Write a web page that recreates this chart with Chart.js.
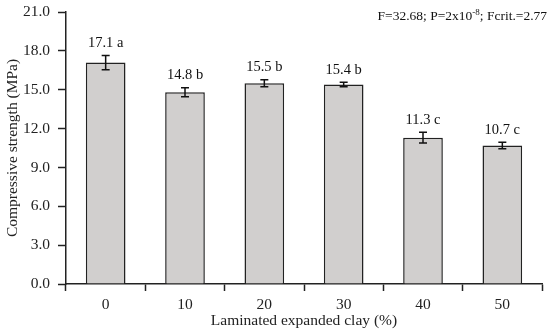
<!DOCTYPE html>
<html>
<head>
<meta charset="utf-8">
<script src="https://cdn.jsdelivr.net/npm/chart.js@4"></script>
<style>
  html, body { margin: 0; padding: 0; background: #fff; }
  #wrap { width: 550px; height: 333px; }
</style>
</head>
<body>
<div id="wrap"><canvas id="chart" width="550" height="333"></canvas></div>
<script>
// data
const categories = ['0', '10', '20', '30', '40', '50'];
const strength = [17.1, 14.8, 15.5, 15.4, 11.3, 10.7];
const errors = [0.55, 0.35, 0.27, 0.18, 0.42, 0.25];
const groups = ['a', 'b', 'b', 'b', 'c', 'c'];

const FONT = '"Liberation Serif", "DejaVu Serif", serif';

// error bars + value labels + the ANOVA note
const extras = {
    id: 'extras',
    afterDatasetsDraw(chart) {
        const ctx = chart.ctx;
        const y = chart.scales.y;
        const meta = chart.getDatasetMeta(0);
        ctx.save();
        ctx.strokeStyle = '#111';
        ctx.lineWidth = 1.5;
        meta.data.forEach((bar, i) => {
            const x = bar.x;
            const top = y.getPixelForValue(strength[i] + errors[i]);
            const bot = y.getPixelForValue(strength[i] - errors[i]);
            ctx.beginPath();
            ctx.moveTo(x, top); ctx.lineTo(x, bot);
            ctx.moveTo(x - 4, top); ctx.lineTo(x + 4, top);
            ctx.moveTo(x - 4, bot); ctx.lineTo(x + 4, bot);
            ctx.stroke();

            ctx.fillStyle = '#111';
            ctx.font = '14.5px ' + FONT;
            ctx.textAlign = 'center';
            ctx.textBaseline = 'bottom';
            ctx.fillText(strength[i].toFixed(1) + ' ' + groups[i], x, top - 5);
        });

        // F=32.68; P=2x10^-8; Fcrit.=2.77
        const parts = [
            { t: 'F=32.68; P=2x10', sup: false },
            { t: '-8', sup: true },
            { t: '; Fcrit.=2.77', sup: false }
        ];
        const base = 20;
        let widths = parts.map(p => {
            ctx.font = (p.sup ? '9px ' : '13.5px ') + FONT;
            return ctx.measureText(p.t).width;
        });
        let xPos = 547 - widths.reduce((a, b) => a + b, 0);
        ctx.textAlign = 'left';
        ctx.textBaseline = 'alphabetic';
        parts.forEach((p, i) => {
            ctx.font = (p.sup ? '9px ' : '13.5px ') + FONT;
            ctx.fillText(p.t, xPos, p.sup ? base - 5 : base);
            xPos += widths[i];
        });
        ctx.restore();
    }
};

new Chart(document.getElementById('chart'), {
    type: 'bar',
    data: {
        labels: categories,
        datasets: [{
            data: strength,
            backgroundColor: '#d1cfce',
            borderColor: '#222',
            borderWidth: 1.5,
            barPercentage: 0.5,
            categoryPercentage: 1.0
        }]
    },
    options: {
        responsive: false,
        animation: false,
        layout: { padding: { top: 12, right: 8, left: 0, bottom: 0 } },
        plugins: {
            legend: { display: false },
            tooltip: { enabled: false }
        },
        scales: {
            x: {
                grid: { drawOnChartArea: false, tickLength: 7, color: '#222', tickWidth: 1.5, offset: true },
                border: { color: '#222', width: 1.5 },
                ticks: { color: '#222', font: { family: FONT, size: 15.5 }, padding: 5 },
                title: {
                    display: true,
                    text: 'Laminated expanded clay (%)',
                    color: '#222',
                    font: { family: FONT, size: 15.5 },
                    padding: { top: 0, bottom: 3 }
                },
                afterFit(scale) { scale.height = 49; }
            },
            y: {
                min: 0,
                max: 21,
                grid: { drawOnChartArea: false, tickLength: 8, color: '#222', tickWidth: 1.5 },
                border: { color: '#222', width: 1.5 },
                ticks: {
                    stepSize: 3,
                    color: '#222',
                    font: { family: FONT, size: 15.5 },
                    padding: 8,
                    callback: v => v.toFixed(1)
                },
                title: {
                    display: true,
                    text: 'Compressive strength (MPa)',
                    color: '#222',
                    font: { family: FONT, size: 15.5 },
                    padding: { top: 4, bottom: 0 }
                },
                afterFit(scale) {
                    scale.width = 66;
                    scale.paddingTop = 0;
                    scale.paddingBottom = 0;
                }
            }
        }
    },
    plugins: [extras]
});
</script>
</body>
</html>
